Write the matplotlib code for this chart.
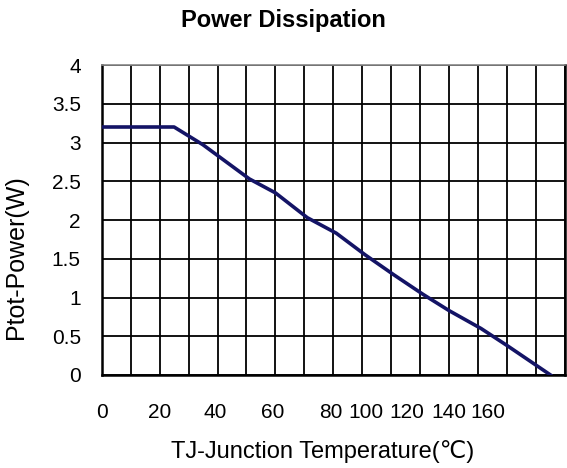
import matplotlib
matplotlib.use("Agg")
import matplotlib.pyplot as plt

# Data (temperature in °C, power in W)
temp = [0, 25, 35, 51, 60, 71, 81, 91, 101, 111, 120, 131, 140, 155]
power = [3.2, 3.2, 2.97, 2.53, 2.35, 2.03, 1.83, 1.55, 1.29, 1.04, 0.83, 0.60, 0.38, 0.0]

y_ticks = [0, 0.5, 1, 1.5, 2, 2.5, 3, 3.5, 4]
y_tick_labels = ["0", "0.5", "1", "1.5", "2", "2.5", "3", "3.5", "4"]
x_tick_labels = ["0", "20", "40", "60", "80", "100", "120", "140", "160"]

title = "Power Dissipation"
xlabel = "TJ-Junction Temperature(\u2103)"
ylabel = "Ptot-Power(W)"

# Layout
x_tick_pos = [0, 20, 39.2, 59.2, 79, 91.2, 105.3, 120, 133.3]
x_grid = list(range(0, 161, 10))
fam = ["Liberation Sans", "DejaVu Sans"]
plt.rcParams["font.family"] = fam

fig = plt.figure(figsize=(5.67, 4.68), dpi=100)
ax = fig.add_axes([101.7 / 567, 93 / 468, (565 - 101.7) / 567, 310 / 468])

for xg in x_grid:
    ax.axvline(xg, color="black", lw=1.3, zorder=1)
for yg in y_ticks:
    ax.axhline(yg, color="black", lw=1.3, zorder=1)

ax.plot(temp, power, color="#141466", lw=2.6, solid_joinstyle="round", zorder=3)

ax.set_xlim(0, 160)
ax.set_ylim(0, 4)
ax.set_xticks(x_tick_pos)
ax.set_xticklabels(x_tick_labels, fontsize=15)
ax.set_yticks(y_ticks)
ax.set_yticklabels(y_tick_labels, fontsize=15)
ax.tick_params(length=0)
ax.tick_params(axis="x", pad=20)
ax.tick_params(axis="y", pad=15)

for side in ["left", "bottom", "right"]:
    ax.spines[side].set_linewidth(1.8)
    ax.spines[side].set_color("black")
ax.spines["top"].set_linewidth(1.2)
ax.spines["top"].set_color("#888888")

fig.text(283 / 567, 1 - 20 / 468, title, ha="center", va="center",
         fontsize=17, fontweight="bold")
fig.text(323 / 567, 1 - 452 / 468, xlabel, ha="center", va="center", fontsize=17)
fig.text(16 / 567, 1 - 257 / 468, ylabel, ha="center", va="center",
         rotation=90, fontsize=18)

fig.savefig("out.png", dpi=100, facecolor="white")
